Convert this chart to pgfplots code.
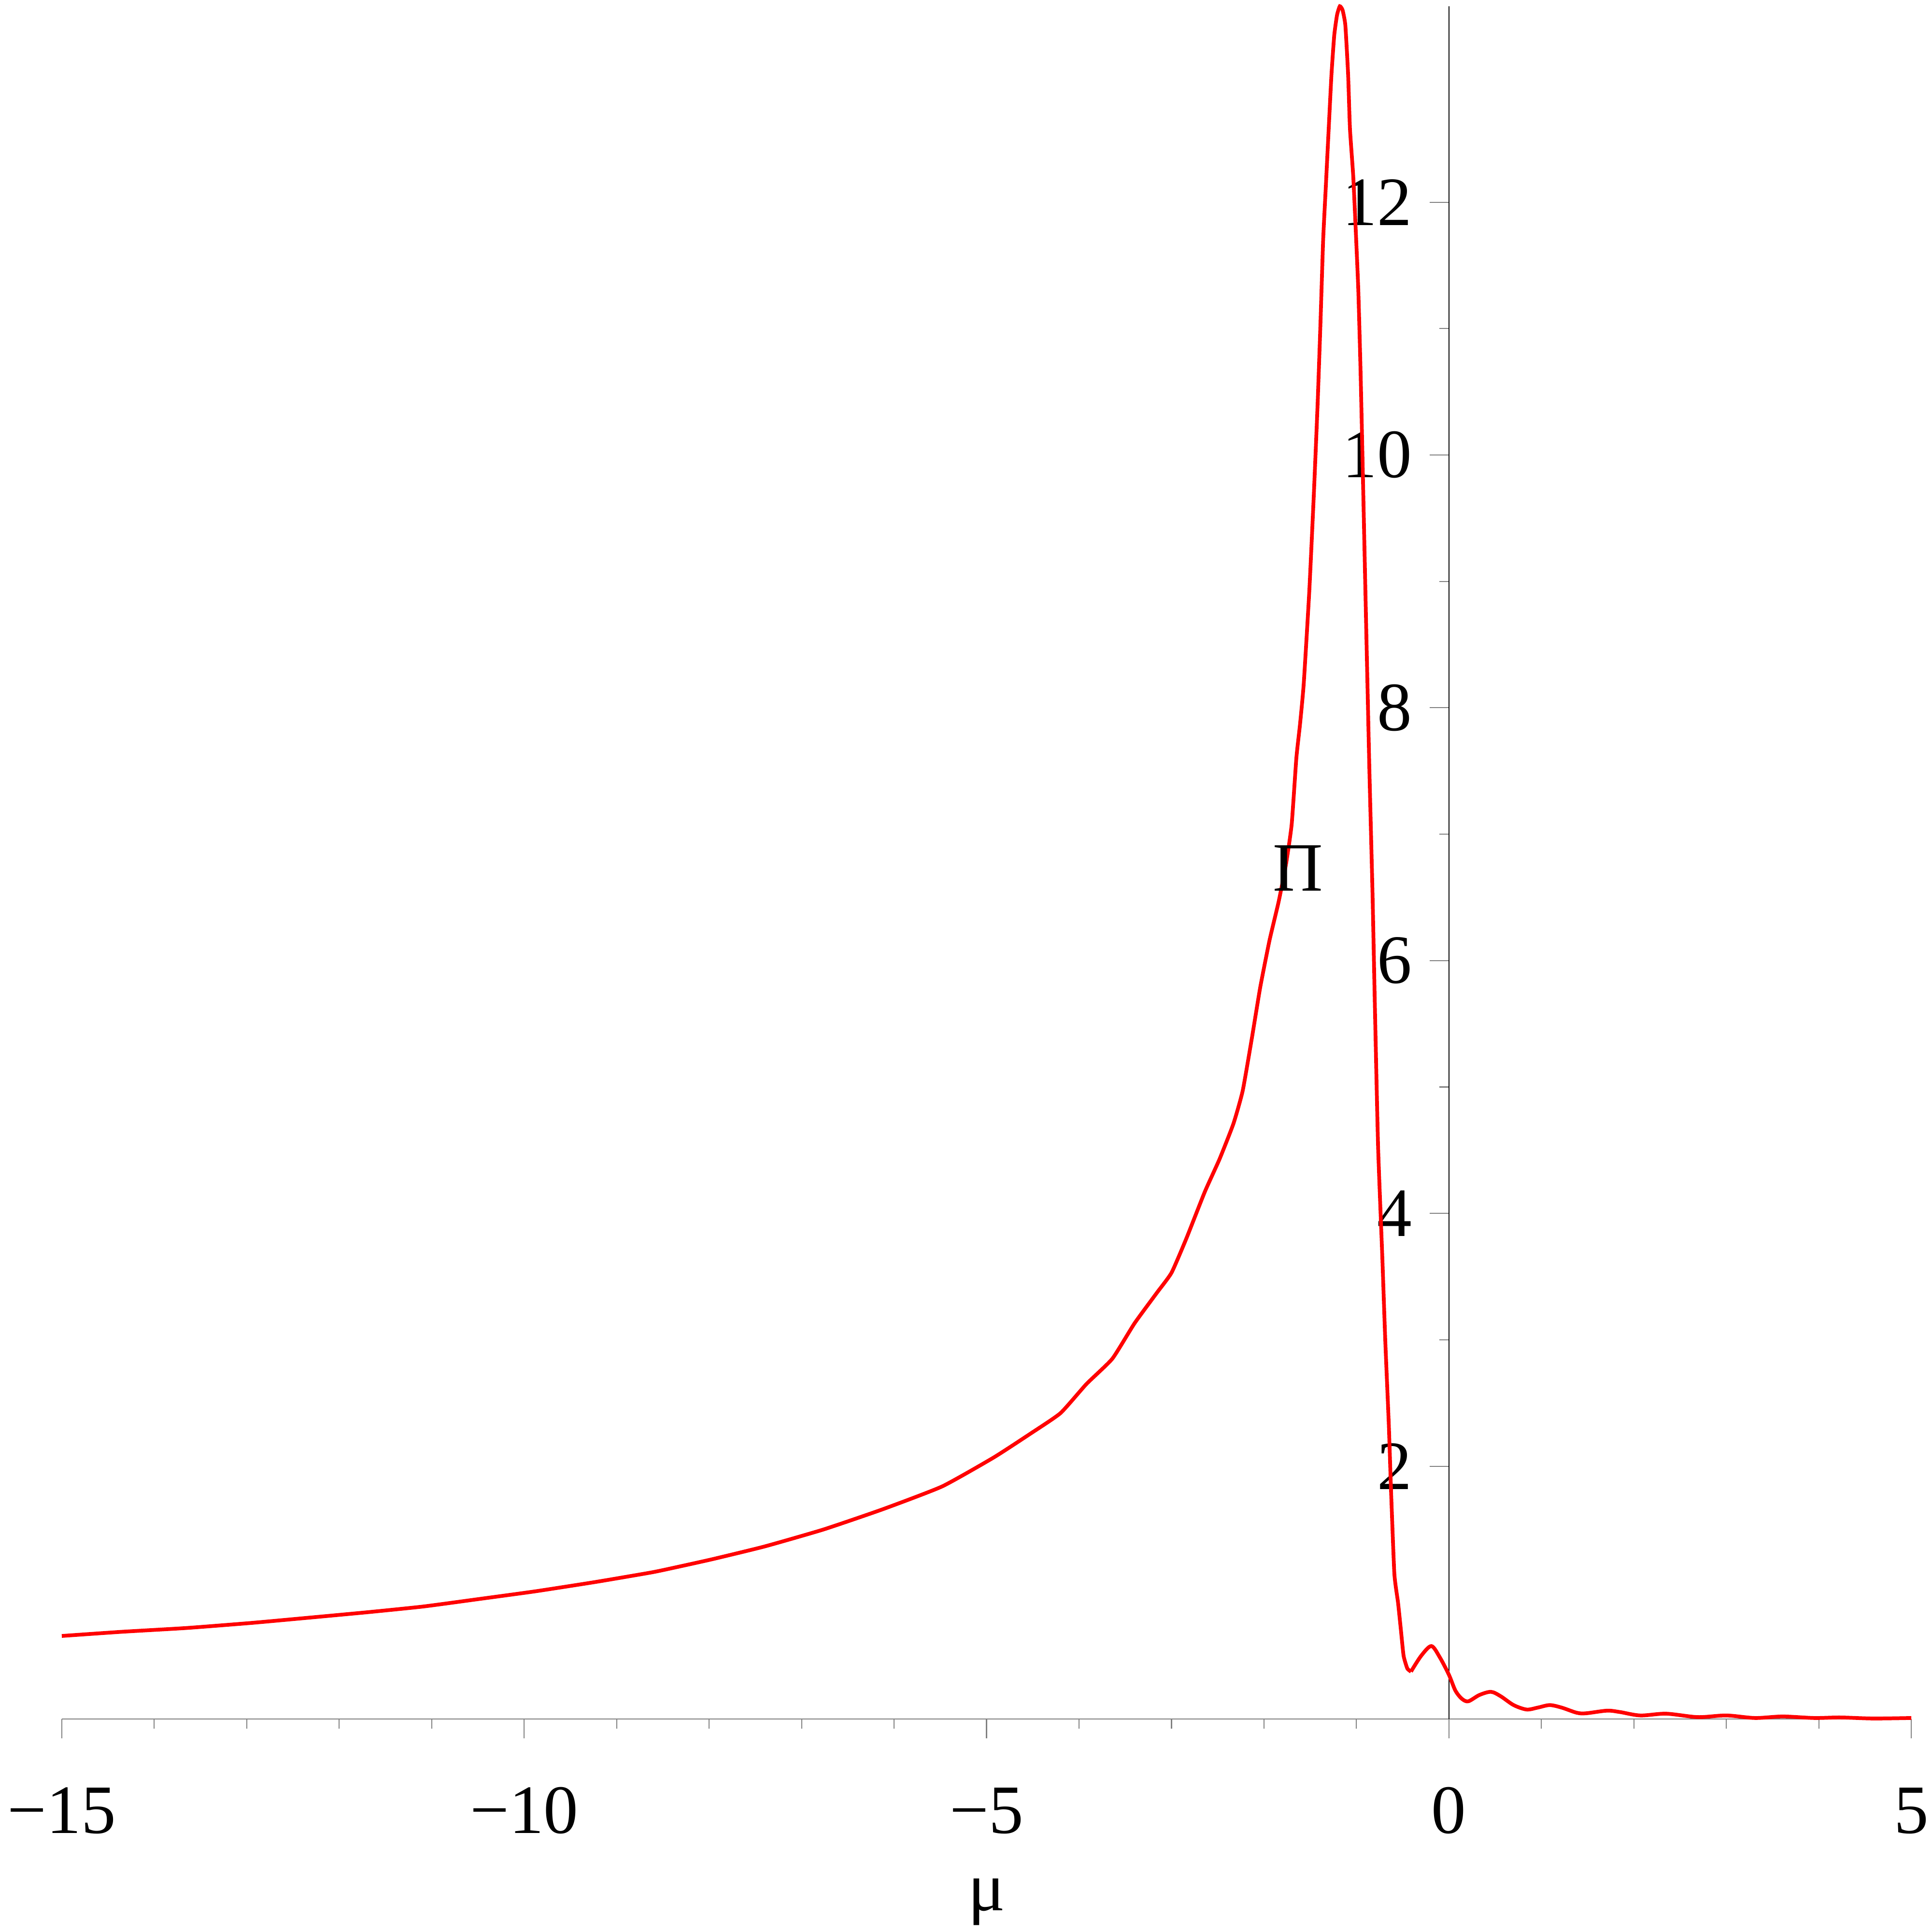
\documentclass[border=0pt]{standalone}
\usepackage{fontspec}
\setmainfont{Liberation Serif}
\usepackage{pgfplots}
\pgfplotsset{compat=1.18}

\definecolor{tickgray}{HTML}{808080}

\begin{document}
\begin{tikzpicture}
\useasboundingbox (-0.32,-1.1025) rectangle (9.68,8.8975);
\begin{axis}[
  scale only axis,
  width=9.5725cm, height=8.865cm,
  xmin=-15, xmax=5, ymin=0, ymax=13.55,
  axis lines=middle,
  x axis line style={-, tickgray, line width=0.2pt},
  y axis line style={-, black, line width=0.15pt},
  hide obscured x ticks=false,
  hide obscured y ticks=false,
  clip=false,
  xtick={-15,-10,-5,0,5},
  xticklabels={−15,−10,−5,0,5},
  ytick={2,4,6,8,10,12},
  yticklabels={2,4,6,8,10,12},
  minor x tick num=4,
  minor y tick num=1,
  tick align=outside,
  major tick length=0.1cm,
  minor tick length=0.05cm,
  tick style={tickgray, line width=0.15pt},
  tick label style={font=\fontsize{10.2}{12}\selectfont},
  xticklabel style={anchor=base, inner sep=0pt, yshift=-0.49cm},
  yticklabel style={anchor=east, inner sep=0pt, xshift=-0.085cm},
]
% main branch up to the first dip
\addplot[red, line width=0.55pt, smooth, tension=0.3] coordinates {
(-15,0.657) (-14.35,0.69) (-13.65,0.72) (-12.95,0.76) (-12.35,0.80)
(-11.69,0.845) (-11.09,0.89) (-10.48,0.95) (-9.88,1.01) (-9.22,1.085)
(-8.62,1.16) (-8.36,1.20) (-7.96,1.265) (-7.40,1.365) (-6.76,1.50)
(-6.12,1.66) (-5.48,1.84) (-4.92,2.07) (-4.52,2.26) (-4.20,2.42)
(-3.92,2.65) (-3.64,2.85) (-3.40,3.13) (-3.16,3.37) (-3.00,3.53)
(-2.84,3.80) (-2.64,4.17) (-2.48,4.43) (-2.33,4.71) (-2.23,4.97)
(-2.13,5.39) (-2.04,5.79) (-1.94,6.16) (-1.84,6.47) (-1.76,6.77)
(-1.70,7.08) (-1.65,7.60) (-1.61,7.87) (-1.57,8.19) (-1.51,8.92)
(-1.46,9.70) (-1.42,10.40) (-1.39,11.02) (-1.36,11.70) (-1.33,12.14)
(-1.30,12.58) (-1.27,13.01) (-1.24,13.32) (-1.21,13.48) (-1.18,13.55)
(-1.15,13.52) (-1.12,13.40) (-1.09,13.01) (-1.07,12.58) (-1.035,12.21)
(-1.01,11.82) (-0.98,11.31) (-0.956,10.68) (-0.935,10.0) (-0.897,8.72)
(-0.86,7.51) (-0.826,6.53) (-0.80,5.62) (-0.766,4.53) (-0.72,3.65)
(-0.688,2.99) (-0.65,2.33) (-0.626,1.81) (-0.59,1.15) (-0.55,0.92)
(-0.52,0.71) (-0.49,0.50) (-0.45,0.40) (-0.41,0.375)
};
% damped ripples
\addplot[red, line width=0.55pt, smooth, tension=0.5] coordinates {
(-0.41,0.375) (-0.30,0.50) (-0.19,0.577) (-0.10,0.49) (0,0.35)
(0.07,0.225) (0.14,0.16) (0.21,0.14) (0.33,0.19) (0.455,0.215)
(0.56,0.18) (0.70,0.11) (0.84,0.075) (0.96,0.09) (1.09,0.11)
(1.22,0.09) (1.38,0.05) (1.48,0.045) (1.71,0.066) (1.85,0.055)
(2.07,0.028) (2.35,0.042) (2.69,0.015) (3.0,0.028) (3.31,0.008)
(3.61,0.02) (3.95,0.008) (4.23,0.012) (4.59,0.004) (5.0,0.008)
};
\node[font=\fontsize{10.2}{12}\selectfont, inner sep=0pt] at (axis cs:-1.63,6.73) {Π};
\node[font=\fontsize{10.2}{12}\selectfont, inner sep=0pt, anchor=base] at ([yshift=-0.99cm]axis cs:-5,0) {μ};
\end{axis}
\end{tikzpicture}
\end{document}
